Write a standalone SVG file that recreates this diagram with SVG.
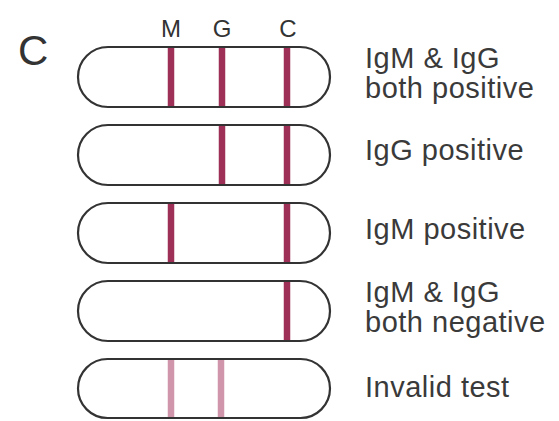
<svg xmlns="http://www.w3.org/2000/svg" width="559" height="421" viewBox="0 0 559 421">
<style>
.strip{fill:#fff;stroke:#333;stroke-width:2.2}
.bar{stroke:#9e2f57;stroke-width:6.5}
.faint{stroke:#d095aa;stroke-width:6.5}
.lbl{font-family:"Liberation Sans",Arial,sans-serif;font-size:29px;fill:#3a3a3a;letter-spacing:0.5px}
.hdr{font-family:"Liberation Sans",Arial,sans-serif;font-size:24px;fill:#333;text-anchor:middle}
</style>
<rect width="559" height="421" fill="#fff"/>
<text x="18" y="65" font-family="Liberation Sans, Arial, sans-serif" font-size="42" fill="#333">C</text>
<g id="headers">
<text class="hdr" x="171" y="37">M</text>
<text class="hdr" x="222" y="37">G</text>
<text class="hdr" x="288" y="37">C</text>
</g>
<g id="strip1">
<rect class="strip" x="78" y="47" width="252" height="60" rx="30"/>
<line class="bar" x1="171" y1="48" x2="171" y2="106"/>
<line class="bar" x1="222" y1="48" x2="222" y2="106"/>
<line class="bar" x1="287" y1="48" x2="287" y2="106"/>
<text class="lbl" x="365" y="68">IgM &amp; IgG</text>
<text class="lbl" x="365" y="98">both positive</text>
</g>
<g id="strip2">
<rect class="strip" x="78" y="125" width="252" height="60" rx="30"/>
<line class="bar" x1="222" y1="126" x2="222" y2="184"/>
<line class="bar" x1="287" y1="126" x2="287" y2="184"/>
<text class="lbl" x="365" y="160">IgG positive</text>
</g>
<g id="strip3">
<rect class="strip" x="78" y="203" width="252" height="60" rx="30"/>
<line class="bar" x1="171" y1="204" x2="171" y2="262"/>
<line class="bar" x1="287" y1="204" x2="287" y2="262"/>
<text class="lbl" x="365" y="239">IgM positive</text>
</g>
<g id="strip4">
<rect class="strip" x="78" y="281" width="252" height="60" rx="30"/>
<line class="bar" x1="287" y1="282" x2="287" y2="340"/>
<text class="lbl" x="365" y="302">IgM &amp; IgG</text>
<text class="lbl" x="365" y="332">both negative</text>
</g>
<g id="strip5">
<rect class="strip" x="78" y="359" width="252" height="59" rx="29.5"/>
<line class="faint" x1="171" y1="360" x2="171" y2="417"/>
<line class="faint" x1="221" y1="360" x2="221" y2="417"/>
<text class="lbl" x="365" y="397">Invalid test</text>
</g>
<g id="connectors"/>
</svg>
